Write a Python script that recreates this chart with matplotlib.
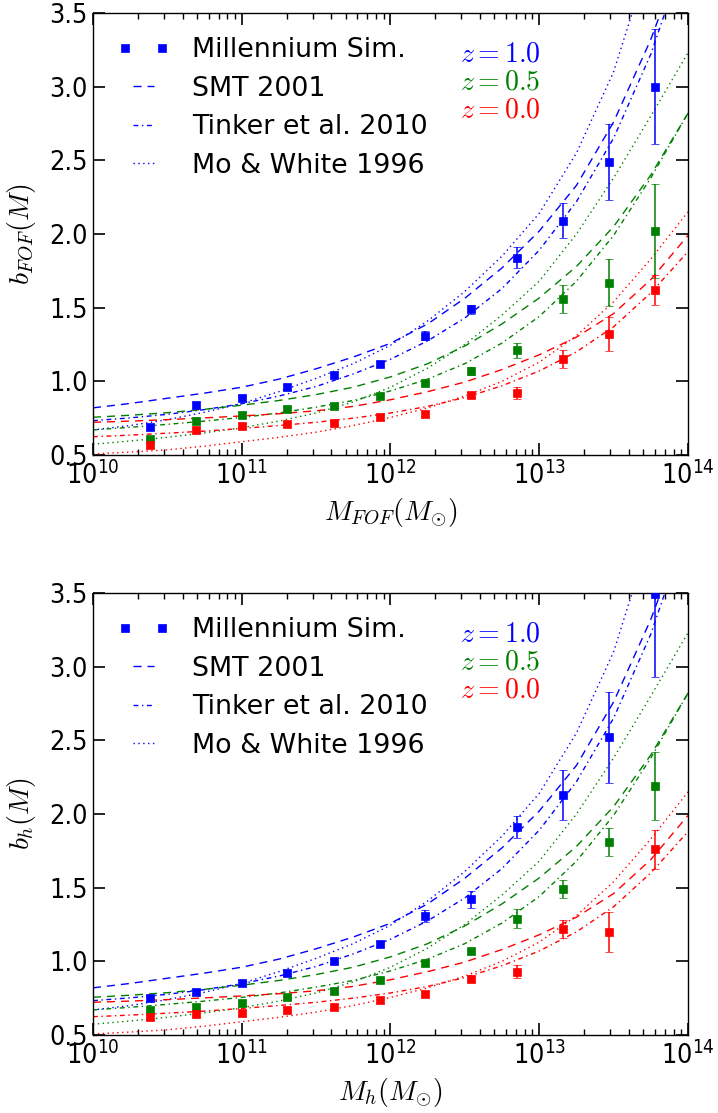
#!/usr/bin/env python3
"""
Halo bias vs. mass from the Millennium Simulation, compared with the
SMT 2001, Tinker et al. 2010 and Mo & White 1996 bias models, at z = 0, 0.5, 1.
Top: FOF masses; bottom: M_h masses.
"""
import numpy as np
import matplotlib
matplotlib.use("Agg")
import matplotlib.pyplot as plt
from matplotlib import font_manager
from matplotlib.legend_handler import HandlerLine2D
from matplotlib.ticker import FixedLocator, NullFormatter, LogLocator

plt.rcParams["mathtext.fontset"] = "cm"

# --- simulation measurements ---------------------------------------------------------------------
MASS = [2.4e10, 4.9e10, 1.0e11, 2.0e11, 4.2e11, 8.5e11, 1.7e12, 3.5e12, 7.1e12, 1.45e13, 2.95e13, 6.0e13]

# FOF masses
B_FOF_Z10 = [0.69, 0.84, 0.89, 0.96, 1.04, 1.12, 1.31, 1.49, 1.84, 2.09, 2.49, 3.00]
E_FOF_Z10 = [0.02, 0.02, 0.02, 0.02, 0.02, 0.02, 0.03, 0.03, 0.07, 0.12, 0.26, 0.39]
B_FOF_Z05 = [0.61, 0.73, 0.77, 0.81, 0.83, 0.90, 0.99, 1.07, 1.21, 1.56, 1.67, 2.02]
E_FOF_Z05 = [0.02, 0.02, 0.02, 0.02, 0.02, 0.02, 0.02, 0.03, 0.05, 0.095, 0.16, 0.32]
B_FOF_Z00 = [0.57, 0.67, 0.70, 0.71, 0.72, 0.76, 0.78, 0.91, 0.92, 1.15, 1.32, 1.62]
E_FOF_Z00 = [0.02, 0.02, 0.02, 0.02, 0.02, 0.02, 0.02, 0.02, 0.04, 0.06, 0.115, 0.10]

# M_h masses
B_H_Z10 = [0.75, 0.79, 0.85, 0.92, 1.00, 1.12, 1.31, 1.42, 1.91, 2.13, 2.52, 3.49]
E_H_Z10 = [0.02, 0.02, 0.02, 0.02, 0.02, 0.02, 0.04, 0.055, 0.075, 0.17, 0.31, 0.56]
B_H_Z05 = [0.67, 0.69, 0.72, 0.76, 0.80, 0.87, 0.99, 1.07, 1.29, 1.49, 1.81, 2.19]
E_H_Z05 = [0.02, 0.02, 0.02, 0.02, 0.02, 0.02, 0.02, 0.02, 0.065, 0.06, 0.095, 0.23]
B_H_Z00 = [0.62, 0.64, 0.65, 0.67, 0.69, 0.74, 0.78, 0.88, 0.93, 1.22, 1.20, 1.76]
E_H_Z00 = [0.02, 0.02, 0.02, 0.02, 0.02, 0.02, 0.02, 0.02, 0.045, 0.06, 0.135, 0.13]

# --- model curves (every quarter decade, 1e10 .. 1e14) -------------------------------------------
M_MODEL = [1.00e10, 1.78e10, 3.16e10, 5.62e10, 1.00e11, 1.78e11, 3.16e11, 5.62e11, 1.00e12,
           1.78e12, 3.16e12, 5.62e12, 1.00e13, 1.78e13, 3.16e13, 5.62e13, 1.00e14]

SMT_Z10 = [0.820, 0.850, 0.885, 0.920, 0.960, 1.015, 1.085, 1.165, 1.258,
           1.390, 1.564, 1.770, 2.020, 2.330, 2.760, 3.320, 4.000]
TINK_Z10 = [0.733, 0.752, 0.776, 0.808, 0.848, 0.900, 0.965, 1.050, 1.150,
            1.275, 1.430, 1.630, 1.890, 2.220, 2.650, 3.220, 3.960]
MW_Z10 = [0.670, 0.700, 0.740, 0.790, 0.850, 0.930, 1.020, 1.120, 1.245,
          1.410, 1.610, 1.850, 2.140, 2.550, 3.100, 3.900, 5.000]

SMT_Z05 = [0.756, 0.770, 0.787, 0.810, 0.838, 0.870, 0.910, 0.960, 1.030,
           1.120, 1.240, 1.390, 1.566, 1.780, 2.050, 2.400, 2.820]
TINK_Z05 = [0.670, 0.688, 0.708, 0.730, 0.755, 0.785, 0.825, 0.870, 0.935,
            1.015, 1.120, 1.260, 1.440, 1.680, 1.990, 2.380, 2.820]
MW_Z05 = [0.573, 0.595, 0.620, 0.650, 0.685, 0.730, 0.785, 0.860, 0.960,
          1.090, 1.250, 1.450, 1.680, 2.000, 2.380, 2.800, 3.230]

SMT_Z00 = [0.722, 0.730, 0.740, 0.752, 0.765, 0.780, 0.800, 0.830, 0.875,
           0.930, 0.995, 1.080, 1.180, 1.300, 1.460, 1.690, 1.990]
TINK_Z00 = [0.624, 0.635, 0.648, 0.662, 0.680, 0.700, 0.722, 0.750, 0.785,
            0.830, 0.890, 0.970, 1.070, 1.200, 1.370, 1.600, 1.880]
MW_Z00 = [0.507, 0.520, 0.535, 0.560, 0.590, 0.620, 0.655, 0.700, 0.755,
          0.820, 0.900, 1.000, 1.130, 1.310, 1.540, 1.830, 2.150]

Z_LABELS = [r"$z=1.0$", r"$z=0.5$", r"$z=0.0$"]
COLOURS = ["#0000ff", "#008000", "#ff0000"]
LEGEND_LABELS = ["Millennium Sim.", "SMT 2001", "Tinker et al. 2010", "Mo & White 1996"]
Y_TICKS = [0.5, 1.0, 1.5, 2.0, 2.5, 3.0, 3.5]
X_TICKS = [1e10, 1e11, 1e12, 1e13, 1e14]

DASHED = (5.8, 4.3)
DASHDOT = (3.5, 2.6, 1.0, 2.6)
DOTTED = (1.0, 2.5)


def tick_font(size):
    """Narrow sans face for tick labels, if one is installed."""
    for f in font_manager.fontManager.ttflist:
        base = f.fname.split("/")[-1]
        if base in ("DejaVuSansCondensed.ttf", "LiberationSansNarrow-Regular.ttf"):
            return font_manager.FontProperties(fname=f.fname, size=size)
    return font_manager.FontProperties(family="DejaVu Sans", size=size)


def style_axes(ax, fp):
    ax.set_xscale("log")
    ax.set_xlim(1e10, 1e14)
    ax.set_ylim(0.5, 3.5)
    ax.set_xticks(X_TICKS)
    ax.set_xticklabels([r"$\mathdefault{10^{%d}}$" % int(np.log10(t)) for t in X_TICKS],
                       fontproperties=fp)
    ax.xaxis.set_minor_locator(LogLocator(base=10, subs=np.arange(2, 10)))
    ax.xaxis.set_minor_formatter(NullFormatter())
    ax.yaxis.set_major_locator(FixedLocator(Y_TICKS))
    ax.set_yticklabels(["%.1f" % t for t in Y_TICKS], fontproperties=fp)
    ax.tick_params(which="both", direction="in", top=True, right=True)
    ax.tick_params(which="major", length=8.6, width=1.2, pad=5)
    ax.tick_params(axis="y", which="major", pad=4)
    ax.tick_params(which="minor", length=4.3, width=1.0)
    for sp in ax.spines.values():
        sp.set_linewidth(1.0)


def plot_panel(ax, sims, xlabel, ylabel, fp):
    models = [(SMT_Z10, TINK_Z10, MW_Z10), (SMT_Z05, TINK_Z05, MW_Z05), (SMT_Z00, TINK_Z00, MW_Z00)]
    handles = []
    for (b, e), (smt, tink, mw), col in zip(sims, models, COLOURS):
        l1, = ax.plot(M_MODEL, smt, color=col, lw=1.0, dashes=DASHED)
        l2, = ax.plot(M_MODEL, tink, color=col, lw=1.0, dashes=DASHDOT)
        l3, = ax.plot(M_MODEL, mw, color=col, lw=1.0, dashes=DOTTED)
        ax.errorbar(MASS, b, yerr=e, fmt="s", color=col, ms=6.3, mec=col, mew=0.5,
                    elinewidth=1.1, capsize=3.0, capthick=1.1, zorder=5)
        if not handles:
            pts, = ax.plot([], [], "s", color=col, ms=6.3, mec=col, mew=0.5)
            handles = [pts, l1, l2, l3]

    ax.legend(handles, LEGEND_LABELS, loc="upper left", bbox_to_anchor=(0.054, 0.945),
              frameon=False, numpoints=2, borderpad=0, borderaxespad=0,
              handlelength=1.37, handletextpad=1.1, labelspacing=0.465,
              prop=font_manager.FontProperties(family="DejaVu Sans", size=19.4),
              handler_map={handles[0]: HandlerLine2D(marker_pad=0.0)})

    for lab, col, yy in zip(Z_LABELS, COLOURS, [0.909, 0.845, 0.781]):
        ax.text(0.617, yy, lab, color=col, fontsize=20, transform=ax.transAxes,
                ha="left", va="center")

    style_axes(ax, fp)
    ax.set_xlabel(xlabel, fontsize=20)
    ax.set_ylabel(ylabel, fontsize=20)
    ax.xaxis.set_label_coords(0.5, -0.093)
    ax.yaxis.set_label_coords(-0.092, 0.5)


def main():
    fig = plt.figure(figsize=(7.18, 11.13), dpi=100)
    fp = tick_font(19.4)

    ax_top = fig.add_axes([0.1295, 0.5912, 0.8287, 0.3971])
    plot_panel(ax_top,
               [(B_FOF_Z10, E_FOF_Z10), (B_FOF_Z05, E_FOF_Z05), (B_FOF_Z00, E_FOF_Z00)],
               r"$M_{FOF}(M_{\odot})$", r"$b_{FOF}(M)$", fp)

    ax_bot = fig.add_axes([0.1295, 0.0701, 0.8287, 0.3971])
    plot_panel(ax_bot,
               [(B_H_Z10, E_H_Z10), (B_H_Z05, E_H_Z05), (B_H_Z00, E_H_Z00)],
               r"$M_{h}(M_{\odot})$", r"$b_{h}(M)$", fp)

    fig.savefig("out.png", dpi=100, facecolor="white")
    plt.close(fig)


if __name__ == "__main__":
    main()
